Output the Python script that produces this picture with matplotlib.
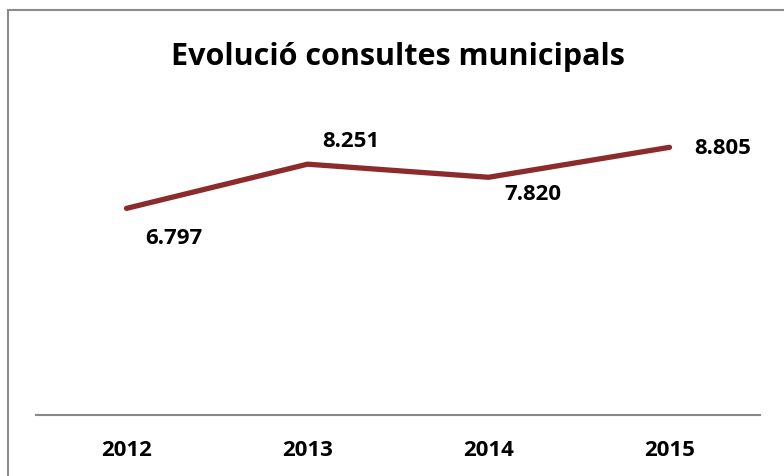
import matplotlib.pyplot as plt
from matplotlib.lines import Line2D

# Data
years = ['2012', '2013', '2014', '2015']
consultes = [6797, 8251, 7820, 8805]
value_labels = ['6.797', '8.251', '7.820', '8.805']
# label offsets in points (dx, dy)
label_offsets = [(34, -21), (31, 17), (32, -12), (38, 0)]

plt.rcParams['font.family'] = ['Open Sans', 'DejaVu Sans']

fig = plt.figure(figsize=(7.84, 4.77), dpi=100)
ax = fig.add_axes([36 / 784, (477 - 416) / 477, (760 - 36) / 784, (416 - 112) / 477])

x = range(len(years))
ax.plot(x, consultes, color='#8B2B2B', linewidth=3.8, solid_capstyle='round')

for i, (lab, off) in enumerate(zip(value_labels, label_offsets)):
    ax.annotate(lab, (i, consultes[i]), xytext=off, textcoords='offset points',
                ha='center', va='center', fontsize=16, fontweight='bold')

ax.set_xlim(-0.5, len(years) - 0.5)
ax.set_ylim(0, 10000)
ax.set_xticks(list(x))
ax.set_xticklabels(years, fontsize=16, fontweight='bold')
ax.tick_params(axis='x', length=0, pad=17)
ax.set_yticks([])
for s in ['top', 'right', 'left']:
    ax.spines[s].set_visible(False)
ax.spines['bottom'].set_color('#888888')
ax.spines['bottom'].set_linewidth(1.5)

fig.text(398 / 784, 1 - 57 / 477, 'Evolució consultes municipals', ha='center', va='center',
         fontsize=22, fontweight='bold')

# chart frame (cropped at right and bottom)
fig.add_artist(Line2D([7.5 / 784, 7.5 / 784], [0, 1 - 11 / 477], color='#8c8c8c', linewidth=1.5))
fig.add_artist(Line2D([7.5 / 784, 1], [1 - 11 / 477, 1 - 11 / 477], color='#8c8c8c', linewidth=1.5))

fig.savefig('out.png', dpi=100)
